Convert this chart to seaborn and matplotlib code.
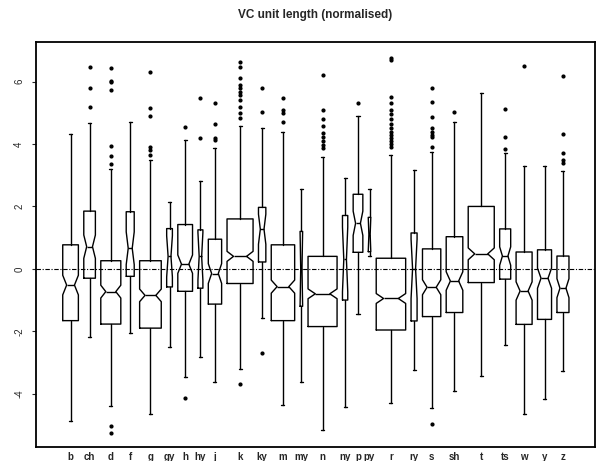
import numpy as np
import matplotlib
matplotlib.use("Agg")
import matplotlib.pyplot as plt
import seaborn as sns

# ---- data ----
categories = ["b", "ch", "d", "f", "g", "gy", "h", "hy", "j", "k", "ky", "m", "my",
              "n", "ny", "p", "py", "r", "ry", "s", "sh", "t", "ts", "w", "y", "z"]
counts = [149, 82, 244, 39, 285, 20, 132, 15, 108, 413, 33, 334, 4,
          513, 17, 57, 4, 528, 22, 204, 168, 413, 74, 156, 120, 88]
whisker_low = [-4.87, -2.17, -4.40, -2.07, -4.65, -2.49, -3.46, -2.81, -3.62, -3.22, -1.58, -4.36, -3.62,
               -5.16, -4.42, -1.46, 0.40, -4.31, -3.24, -4.47, -3.90, -3.42, -2.44, -4.65, -4.18, -3.26]
quart1 = [-1.66, -0.30, -1.77, -0.24, -1.90, -0.58, -0.72, -0.62, -1.13, -0.47, 0.22, -1.66, -1.20,
          -1.85, -1.00, 0.53, 0.55, -1.96, -1.67, -1.53, -1.40, -0.44, -0.33, -1.78, -1.62, -1.40]
medians = [-0.52, 0.71, -0.73, 0.66, -0.85, 0.40, 0.15, 0.40, -0.15, 0.40, 1.27, -0.57, 0.00,
           -0.80, 0.30, 1.46, 1.10, -0.95, 0.00, -0.59, -0.39, 0.48, 0.41, -0.71, -0.30, -0.62]
quart3 = [0.77, 1.85, 0.26, 1.83, 0.26, 1.29, 1.42, 1.25, 0.95, 1.60, 1.97, 0.77, 1.20,
          0.40, 1.71, 2.39, 1.65, 0.34, 1.15, 0.64, 1.03, 2.00, 1.28, 0.54, 0.61, 0.41]
whisker_high = [4.32, 4.67, 3.20, 4.70, 3.49, 2.13, 4.13, 2.80, 3.87, 4.58, 4.51, 4.40, 2.55,
                3.60, 2.91, 4.90, 2.55, 3.65, 3.18, 3.76, 4.72, 5.63, 3.71, 3.28, 3.30, 3.14]
outliers = [
    [],
    [6.46, 5.79, 5.20],
    [6.43, 6.02, 5.98, 5.74, 3.94, 3.63, 3.36, -5.04, -5.27],
    [],
    [6.32, 5.15, 4.90, 3.92, 3.80, 3.65],
    [],
    [4.54, -4.13],
    [5.49, 4.19],
    [5.33, 4.65, 4.20, 4.13],
    [6.62, 6.48, 6.11, 5.90, 5.80, 5.68, 5.56, 5.40, 5.20, 5.00, 4.85, -3.69],
    [5.81, 5.02, -2.69],
    [5.47, 5.10, 4.99, 4.72],
    [],
    [6.22, 5.09, 4.80, 4.58, 4.35, 4.22, 4.10, 3.98, 3.86],
    [],
    [5.33],
    [],
    [6.76, 6.70, 5.52, 5.30, 5.10, 4.95, 4.80, 4.65, 4.50, 4.40, 4.30, 4.20, 4.10, 4.00, 3.90],
    [],
    [5.79, 5.36, 4.88, 4.51, 4.40, 4.30, 4.24, 3.90, -4.98],
    [5.02],
    [],
    [5.13, 4.24, 3.83],
    [6.51],
    [],
    [6.18, 4.32, 3.71, 3.49, 3.39],
]
yticks = [-4, -2, 0, 2, 4, 6]
title = "VC unit length (normalised)"

# ---- style ----
sns.set_style("ticks")
plt.rcParams["font.family"] = ["Liberation Sans", "DejaVu Sans"]

W, H = 601, 461
fig = plt.figure(figsize=(W / 100, H / 100), dpi=100)
ax = fig.add_axes([36 / W, 1 - 446.7 / H, (595 - 36) / W, (446.7 - 42) / H])

# variable widths (proportional to sqrt(n)) and packed positions
width_scale = 1.28
gap = 5.4
widths = [width_scale * np.sqrt(n) for n in counts]
positions = []
cur = 0.0
for i, w in enumerate(widths):
    if i == 0:
        cur = w / 2
    else:
        cur += widths[i - 1] / 2 + gap + w / 2
    positions.append(cur)

stats = []
for i, cat in enumerate(categories):
    iqr = quart3[i] - quart1[i]
    half = 1.58 * iqr / np.sqrt(counts[i])
    stats.append(dict(label=cat, med=medians[i], q1=quart1[i], q3=quart3[i],
                      whislo=whisker_low[i], whishi=whisker_high[i],
                      fliers=np.array(outliers[i]),
                      cilo=max(medians[i] - half, quart1[i]),
                      cihi=min(medians[i] + half, quart3[i])))

ax.axhline(0, color="black", lw=0.8, ls=(0, (4, 1.5, 1, 1.5)), zorder=1)

lw = 1.0
ax.bxp(stats, positions=positions, widths=widths, shownotches=True,
       manage_ticks=False, capwidths=[3] * len(stats),
       boxprops=dict(color="black", lw=lw),
       medianprops=dict(color="black", lw=lw),
       whiskerprops=dict(color="black", lw=lw),
       capprops=dict(color="black", lw=lw),
       flierprops=dict(marker="o", markersize=2.0, markerfacecolor="black",
                       markeredgecolor="black", linestyle="none"))

ax.set_xlim(positions[0] - widths[0] / 2 - 26.7, positions[-1] + widths[-1] / 2 + 26)
ax.set_ylim(-5.70, 7.27)
ax.set_xticks(positions)
ax.set_xticklabels(categories, fontsize=7, fontweight="bold")
ax.set_yticks(yticks)
ax.set_yticklabels([str(v) for v in yticks], fontsize=7, rotation=90, va="center")
ax.tick_params(axis="x", length=0, pad=4)
ax.tick_params(axis="y", length=3, width=0.8, pad=5.5, direction="out")
for s in ax.spines.values():
    s.set_visible(True)
    s.set_linewidth(1.3)
    s.set_color("black")

fig.text(315.5 / W, 1 - 15 / H, title, ha="center", va="center", fontsize=8.5,
         fontweight="bold")

fig.savefig("out.png", dpi=100)
